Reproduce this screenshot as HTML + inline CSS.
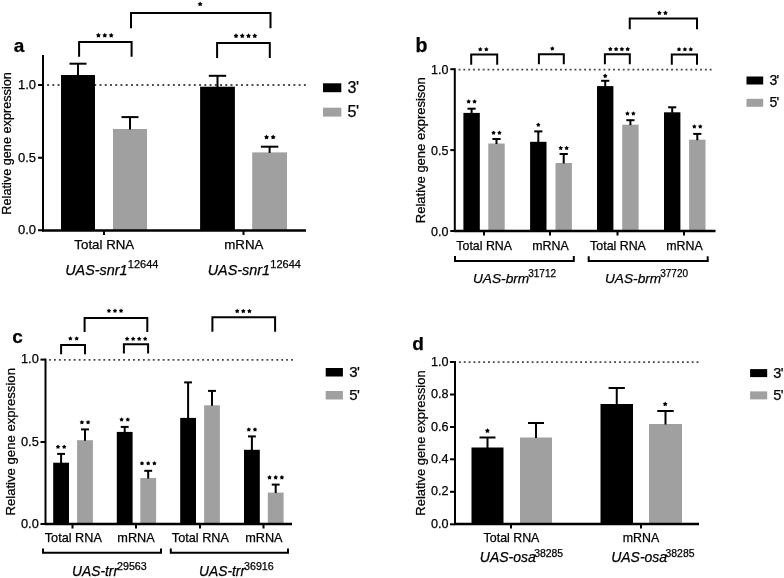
<!DOCTYPE html>
<html><head><meta charset="utf-8"><style>
html,body{margin:0;padding:0;background:#fff;}
svg{display:block;filter:grayscale(1);}
text{font-family:"Liberation Sans", sans-serif;fill:#000;stroke:#000;stroke-width:0.25px;}
</style></head><body>
<svg width="784" height="578" viewBox="0 0 784 578">
<rect width="784" height="578" fill="#fff"/>
<text x="19" y="52.2" font-size="19" text-anchor="middle" font-weight="bold">a</text>
<text x="0" y="0" font-size="12.7" text-anchor="middle" transform="translate(10.8,143.4) rotate(-90)">Relative gene expression</text>
<line x1="43" y1="55" x2="43" y2="231.5" stroke="#000" stroke-width="2"/>
<line x1="38" y1="85" x2="43" y2="85" stroke="#000" stroke-width="2"/>
<text x="36.1" y="89.08" font-size="13" text-anchor="end">1.0</text>
<line x1="38" y1="157.75" x2="43" y2="157.75" stroke="#000" stroke-width="2"/>
<text x="36.1" y="161.83" font-size="13" text-anchor="end">0.5</text>
<line x1="38" y1="230.25" x2="43" y2="230.25" stroke="#000" stroke-width="2"/>
<text x="36.1" y="234.33" font-size="13" text-anchor="end">0.0</text>
<line x1="47.15" y1="85" x2="305.85" y2="85" stroke="#4a4a4a" stroke-width="1.9" stroke-dasharray="1.9,3.34"/>
<rect x="61" y="75" width="34" height="155" fill="#000"/>
<line x1="78" y1="63.7" x2="78" y2="75.5" stroke="#000" stroke-width="2"/>
<line x1="69.5" y1="63.7" x2="86.5" y2="63.7" stroke="#000" stroke-width="2"/>
<rect x="113" y="129" width="34" height="101" fill="#a0a0a0"/>
<line x1="130" y1="117.1" x2="130" y2="129.5" stroke="#000" stroke-width="2"/>
<line x1="121.5" y1="117.1" x2="138.5" y2="117.1" stroke="#000" stroke-width="2"/>
<rect x="200.1" y="86.7" width="34.8" height="143.3" fill="#000"/>
<line x1="217.5" y1="75.8" x2="217.5" y2="87.2" stroke="#000" stroke-width="2"/>
<line x1="208.8" y1="75.8" x2="226.2" y2="75.8" stroke="#000" stroke-width="2"/>
<rect x="252.2" y="152.4" width="34.8" height="77.6" fill="#a0a0a0"/>
<line x1="269.6" y1="146.7" x2="269.6" y2="152.9" stroke="#000" stroke-width="2"/>
<line x1="260.9" y1="146.7" x2="278.3" y2="146.7" stroke="#000" stroke-width="2"/>
<line x1="42" y1="230.5" x2="306" y2="230.5" stroke="#000" stroke-width="2.4"/>
<line x1="104" y1="230.5" x2="104" y2="235" stroke="#000" stroke-width="2"/>
<line x1="243.5" y1="230.5" x2="243.5" y2="235" stroke="#000" stroke-width="2"/>
<text x="104.3" y="249" font-size="13.3" text-anchor="middle">Total RNA</text>
<text x="243.8" y="249" font-size="13.3" text-anchor="middle">mRNA</text>
<text x="111.8" y="274.6" font-size="14.4" text-anchor="middle"><tspan font-style="italic">UAS-snr1</tspan><tspan font-size="11" dx="0.3" dy="-6.2">12644</tspan></text>
<text x="254.3" y="274.6" font-size="14.4" text-anchor="middle"><tspan font-style="italic">UAS-snr1</tspan><tspan font-size="11" dx="0.3" dy="-6.2">12644</tspan></text>
<rect x="323" y="83.3" width="18.3" height="8.9" fill="#000"/>
<rect x="323" y="107.7" width="18.3" height="8.9" fill="#a0a0a0"/>
<text x="347.6" y="92.51" font-size="16" text-anchor="start" letter-spacing="-0.6">3'</text>
<text x="347.6" y="116.91" font-size="16" text-anchor="start" letter-spacing="-0.6">5'</text>
<polyline points="79.1,56.8 79.1,42 131.6,42 131.6,56.8" fill="none" stroke="#000" stroke-width="2"/>
<path d="M98.4,32.8 L99.29,34.18 L100.87,34.6 L99.83,35.87 L99.93,37.5 L98.4,36.91 L96.87,37.5 L96.97,35.87 L95.93,34.6 L97.51,34.18Z M104.8,32.8 L105.69,34.18 L107.27,34.6 L106.23,35.87 L106.33,37.5 L104.8,36.91 L103.27,37.5 L103.37,35.87 L102.33,34.6 L103.91,34.18Z M111.2,32.8 L112.09,34.18 L113.67,34.6 L112.63,35.87 L112.73,37.5 L111.2,36.91 L109.67,37.5 L109.77,35.87 L108.73,34.6 L110.31,34.18Z" fill="#000"/>
<polyline points="217.1,57.9 217.1,42.9 269.8,42.9 269.8,57.9" fill="none" stroke="#000" stroke-width="2"/>
<path d="M236.03,33.3 L236.91,34.68 L238.5,35.1 L237.46,36.37 L237.55,38 L236.03,37.41 L234.5,38 L234.59,36.37 L233.55,35.1 L235.14,34.68Z M242.28,33.3 L243.16,34.68 L244.75,35.1 L243.71,36.37 L243.8,38 L242.28,37.41 L240.75,38 L240.84,36.37 L239.8,35.1 L241.39,34.68Z M248.53,33.3 L249.41,34.68 L251,35.1 L249.96,36.37 L250.05,38 L248.53,37.41 L247,38 L247.09,36.37 L246.05,35.1 L247.64,34.68Z M254.78,33.3 L255.66,34.68 L257.25,35.1 L256.21,36.37 L256.3,38 L254.78,37.41 L253.25,38 L253.34,36.37 L252.3,35.1 L253.89,34.68Z" fill="#000"/>
<polyline points="131,28.3 131,12.9 270.5,12.9 270.5,28.3" fill="none" stroke="#000" stroke-width="2"/>
<path d="M200.1,1.5 L200.99,2.88 L202.57,3.3 L201.53,4.57 L201.63,6.2 L200.1,5.61 L198.57,6.2 L198.67,4.57 L197.63,3.3 L199.21,2.88Z" fill="#000"/>
<path d="M266.55,134.6 L267.44,135.98 L269.02,136.4 L267.98,137.67 L268.08,139.3 L266.55,138.71 L265.02,139.3 L265.12,137.67 L264.08,136.4 L265.66,135.98Z M273.15,134.6 L274.04,135.98 L275.62,136.4 L274.58,137.67 L274.68,139.3 L273.15,138.71 L271.62,139.3 L271.72,137.67 L270.68,136.4 L272.26,135.98Z" fill="#000"/>
<text x="421.5" y="52.2" font-size="19.5" text-anchor="middle" font-weight="bold">b</text>
<text x="0" y="0" font-size="13" text-anchor="middle" transform="translate(424.5,150.2) rotate(-90)">Relative gene expresison</text>
<line x1="454.8" y1="68.2" x2="454.8" y2="232" stroke="#000" stroke-width="2"/>
<line x1="450.3" y1="69.2" x2="454.8" y2="69.2" stroke="#000" stroke-width="2"/>
<text x="448.4" y="73.7" font-size="12.5" text-anchor="end">1.0</text>
<line x1="450.3" y1="150.1" x2="454.8" y2="150.1" stroke="#000" stroke-width="2"/>
<text x="448.4" y="154.6" font-size="12.5" text-anchor="end">0.5</text>
<line x1="450.3" y1="231" x2="454.8" y2="231" stroke="#000" stroke-width="2"/>
<text x="448.4" y="235.5" font-size="12.5" text-anchor="end">0.0</text>
<line x1="458.55" y1="69.6" x2="711.65" y2="69.6" stroke="#4a4a4a" stroke-width="1.9" stroke-dasharray="1.9,2.93"/>
<rect x="463.4" y="112.9" width="16.4" height="118.1" fill="#000"/>
<line x1="471.6" y1="108.7" x2="471.6" y2="113.4" stroke="#000" stroke-width="2"/>
<line x1="467.5" y1="108.7" x2="475.7" y2="108.7" stroke="#000" stroke-width="2"/>
<path d="M468.65,99.2 L469.47,100.47 L470.93,100.86 L469.97,102.03 L470.06,103.54 L468.65,102.99 L467.24,103.54 L467.33,102.03 L466.37,100.86 L467.83,100.47Z M474.55,99.2 L475.37,100.47 L476.83,100.86 L475.87,102.03 L475.96,103.54 L474.55,102.99 L473.14,103.54 L473.23,102.03 L472.27,100.86 L473.73,100.47Z" fill="#000"/>
<rect x="488.3" y="143.5" width="16.4" height="87.5" fill="#a0a0a0"/>
<line x1="496.5" y1="139" x2="496.5" y2="144" stroke="#000" stroke-width="2"/>
<line x1="492.4" y1="139" x2="500.6" y2="139" stroke="#000" stroke-width="2"/>
<path d="M493.55,130.4 L494.37,131.67 L495.83,132.06 L494.87,133.23 L494.96,134.74 L493.55,134.19 L492.14,134.74 L492.23,133.23 L491.27,132.06 L492.73,131.67Z M499.45,130.4 L500.27,131.67 L501.73,132.06 L500.77,133.23 L500.86,134.74 L499.45,134.19 L498.04,134.74 L498.13,133.23 L497.17,132.06 L498.63,131.67Z" fill="#000"/>
<rect x="530.1" y="141.8" width="16.4" height="89.2" fill="#000"/>
<line x1="538.3" y1="131.4" x2="538.3" y2="142.3" stroke="#000" stroke-width="2"/>
<line x1="534.2" y1="131.4" x2="542.4" y2="131.4" stroke="#000" stroke-width="2"/>
<path d="M538.3,122.5 L539.12,123.77 L540.58,124.16 L539.62,125.33 L539.71,126.84 L538.3,126.29 L536.89,126.84 L536.98,125.33 L536.02,124.16 L537.48,123.77Z" fill="#000"/>
<rect x="555.5" y="163" width="16.4" height="68" fill="#a0a0a0"/>
<line x1="563.7" y1="154" x2="563.7" y2="163.5" stroke="#000" stroke-width="2"/>
<line x1="559.6" y1="154" x2="567.8" y2="154" stroke="#000" stroke-width="2"/>
<path d="M560.75,145.7 L561.57,146.97 L563.03,147.36 L562.07,148.53 L562.16,150.04 L560.75,149.49 L559.34,150.04 L559.43,148.53 L558.47,147.36 L559.93,146.97Z M566.65,145.7 L567.47,146.97 L568.93,147.36 L567.97,148.53 L568.06,150.04 L566.65,149.49 L565.24,150.04 L565.33,148.53 L564.37,147.36 L565.83,146.97Z" fill="#000"/>
<rect x="597" y="86.1" width="16.4" height="144.9" fill="#000"/>
<line x1="605.2" y1="80.8" x2="605.2" y2="86.6" stroke="#000" stroke-width="2"/>
<line x1="601.1" y1="80.8" x2="609.3" y2="80.8" stroke="#000" stroke-width="2"/>
<path d="M605.2,73.6 L606.02,74.87 L607.48,75.26 L606.52,76.43 L606.61,77.94 L605.2,77.39 L603.79,77.94 L603.88,76.43 L602.92,75.26 L604.38,74.87Z" fill="#000"/>
<rect x="622.2" y="124.7" width="16.4" height="106.3" fill="#a0a0a0"/>
<line x1="630.4" y1="120.2" x2="630.4" y2="125.2" stroke="#000" stroke-width="2"/>
<line x1="626.3" y1="120.2" x2="634.5" y2="120.2" stroke="#000" stroke-width="2"/>
<path d="M627.45,111.2 L628.27,112.47 L629.73,112.86 L628.77,114.03 L628.86,115.54 L627.45,114.99 L626.04,115.54 L626.13,114.03 L625.17,112.86 L626.63,112.47Z M633.35,111.2 L634.17,112.47 L635.63,112.86 L634.67,114.03 L634.76,115.54 L633.35,114.99 L631.94,115.54 L632.03,114.03 L631.07,112.86 L632.53,112.47Z" fill="#000"/>
<rect x="664" y="112.3" width="16.4" height="118.7" fill="#000"/>
<line x1="672.2" y1="107.3" x2="672.2" y2="112.8" stroke="#000" stroke-width="2"/>
<line x1="668.1" y1="107.3" x2="676.3" y2="107.3" stroke="#000" stroke-width="2"/>
<rect x="689.1" y="139.7" width="16.4" height="91.3" fill="#a0a0a0"/>
<line x1="697.3" y1="133.9" x2="697.3" y2="140.2" stroke="#000" stroke-width="2"/>
<line x1="693.2" y1="133.9" x2="701.4" y2="133.9" stroke="#000" stroke-width="2"/>
<path d="M694.35,124.2 L695.17,125.47 L696.63,125.86 L695.67,127.03 L695.76,128.54 L694.35,127.99 L692.94,128.54 L693.03,127.03 L692.07,125.86 L693.53,125.47Z M700.25,124.2 L701.07,125.47 L702.53,125.86 L701.57,127.03 L701.66,128.54 L700.25,127.99 L698.84,128.54 L698.93,127.03 L697.97,125.86 L699.43,125.47Z" fill="#000"/>
<line x1="454" y1="231" x2="715.5" y2="231" stroke="#000" stroke-width="2.4"/>
<line x1="484" y1="231" x2="484" y2="235.5" stroke="#000" stroke-width="2"/>
<line x1="550" y1="231" x2="550" y2="235.5" stroke="#000" stroke-width="2"/>
<line x1="617.5" y1="231" x2="617.5" y2="235.5" stroke="#000" stroke-width="2"/>
<line x1="684" y1="231" x2="684" y2="235.5" stroke="#000" stroke-width="2"/>
<text x="484.2" y="250.4" font-size="12.4" text-anchor="middle">Total RNA</text>
<text x="550.5" y="250.4" font-size="12.4" text-anchor="middle">mRNA</text>
<text x="618" y="250.4" font-size="12.4" text-anchor="middle">Total RNA</text>
<text x="684.5" y="250.4" font-size="12.4" text-anchor="middle">mRNA</text>
<polyline points="455,256.1 455,261 573.8,261 573.8,256.1" fill="none" stroke="#000" stroke-width="2"/>
<polyline points="588.7,256.3 588.7,261 707.7,261 707.7,256.3" fill="none" stroke="#000" stroke-width="2"/>
<text x="514.5" y="283" font-size="13.7" text-anchor="middle"><tspan font-style="italic">UAS-brm</tspan><tspan font-size="10" dx="-1" dy="-5.9">31712</tspan></text>
<text x="646.5" y="283" font-size="13.7" text-anchor="middle"><tspan font-style="italic">UAS-brm</tspan><tspan font-size="10" dx="-1" dy="-5.9">37720</tspan></text>
<rect x="746.5" y="76.5" width="16.7" height="8" fill="#000"/>
<rect x="746.5" y="98.8" width="16.7" height="8" fill="#a0a0a0"/>
<text x="769.4" y="84.74" font-size="14" text-anchor="start" letter-spacing="-0.6">3'</text>
<text x="769.4" y="107.04" font-size="14" text-anchor="start" letter-spacing="-0.6">5'</text>
<polyline points="471.2,64.8 471.2,54.4 497.2,54.4 497.2,64.8" fill="none" stroke="#000" stroke-width="2"/>
<path d="M480.25,47 L481.07,48.27 L482.53,48.66 L481.57,49.83 L481.66,51.34 L480.25,50.79 L478.84,51.34 L478.93,49.83 L477.97,48.66 L479.43,48.27Z M486.35,47 L487.17,48.27 L488.63,48.66 L487.67,49.83 L487.76,51.34 L486.35,50.79 L484.94,51.34 L485.03,49.83 L484.07,48.66 L485.53,48.27Z" fill="#000"/>
<polyline points="538.9,64.3 538.9,54.2 563.8,54.2 563.8,64.3" fill="none" stroke="#000" stroke-width="2"/>
<path d="M552.3,46.2 L553.12,47.47 L554.58,47.86 L553.62,49.03 L553.71,50.54 L552.3,49.99 L550.89,50.54 L550.98,49.03 L550.02,47.86 L551.48,47.47Z" fill="#000"/>
<polyline points="604.9,64.3 604.9,54.2 629.8,54.2 629.8,64.3" fill="none" stroke="#000" stroke-width="2"/>
<path d="M610.3,46.8 L611.12,48.07 L612.58,48.46 L611.62,49.63 L611.71,51.14 L610.3,50.59 L608.89,51.14 L608.98,49.63 L608.02,48.46 L609.48,48.07Z M616.1,46.8 L616.92,48.07 L618.38,48.46 L617.42,49.63 L617.51,51.14 L616.1,50.59 L614.69,51.14 L614.78,49.63 L613.82,48.46 L615.28,48.07Z M621.9,46.8 L622.72,48.07 L624.18,48.46 L623.22,49.63 L623.31,51.14 L621.9,50.59 L620.49,51.14 L620.58,49.63 L619.62,48.46 L621.08,48.07Z M627.7,46.8 L628.52,48.07 L629.98,48.46 L629.02,49.63 L629.11,51.14 L627.7,50.59 L626.29,51.14 L626.38,49.63 L625.42,48.46 L626.88,48.07Z" fill="#000"/>
<polyline points="671.8,64.8 671.8,54.4 697,54.4 697,64.8" fill="none" stroke="#000" stroke-width="2"/>
<path d="M679,47 L679.82,48.27 L681.28,48.66 L680.32,49.83 L680.41,51.34 L679,50.79 L677.59,51.34 L677.68,49.83 L676.72,48.66 L678.18,48.27Z M684.9,47 L685.72,48.27 L687.18,48.66 L686.22,49.83 L686.31,51.34 L684.9,50.79 L683.49,51.34 L683.58,49.83 L682.62,48.66 L684.08,48.27Z M690.8,47 L691.62,48.27 L693.08,48.66 L692.12,49.83 L692.21,51.34 L690.8,50.79 L689.39,51.34 L689.48,49.83 L688.52,48.66 L689.98,48.27Z" fill="#000"/>
<polyline points="629.75,29.2 629.75,18.55 697,18.55 697,29.2" fill="none" stroke="#000" stroke-width="2"/>
<path d="M659.35,10.6 L660.17,11.87 L661.63,12.26 L660.67,13.43 L660.76,14.94 L659.35,14.39 L657.94,14.94 L658.03,13.43 L657.07,12.26 L658.53,11.87Z M665.45,10.6 L666.27,11.87 L667.73,12.26 L666.77,13.43 L666.86,14.94 L665.45,14.39 L664.04,14.94 L664.13,13.43 L663.17,12.26 L664.63,11.87Z" fill="#000"/>
<text x="17.5" y="342.5" font-size="19" text-anchor="middle" font-weight="bold">c</text>
<text x="0" y="0" font-size="13.15" text-anchor="middle" transform="translate(14.7,441.8) rotate(-90)">Relative gene expression</text>
<line x1="45.5" y1="358.6" x2="45.5" y2="525" stroke="#000" stroke-width="2"/>
<line x1="40.5" y1="359.6" x2="45.5" y2="359.6" stroke="#000" stroke-width="2"/>
<text x="38.8" y="363.41" font-size="12.8" text-anchor="end">1.0</text>
<line x1="40.5" y1="442" x2="45.5" y2="442" stroke="#000" stroke-width="2"/>
<text x="38.8" y="445.81" font-size="12.8" text-anchor="end">0.5</text>
<line x1="40.5" y1="524" x2="45.5" y2="524" stroke="#000" stroke-width="2"/>
<text x="38.8" y="527.81" font-size="12.8" text-anchor="end">0.0</text>
<line x1="49.03" y1="359.9" x2="292.99" y2="359.9" stroke="#4a4a4a" stroke-width="1.9" stroke-dasharray="1.9,3.04"/>
<rect x="53.2" y="462.7" width="15.8" height="61.3" fill="#000"/>
<line x1="61.1" y1="453.9" x2="61.1" y2="463.2" stroke="#000" stroke-width="2"/>
<line x1="57.15" y1="453.9" x2="65.05" y2="453.9" stroke="#000" stroke-width="2"/>
<path d="M58,444.5 L58.82,445.77 L60.28,446.16 L59.32,447.33 L59.41,448.84 L58,448.29 L56.59,448.84 L56.68,447.33 L55.72,446.16 L57.18,445.77Z M64.2,444.5 L65.02,445.77 L66.48,446.16 L65.52,447.33 L65.61,448.84 L64.2,448.29 L62.79,448.84 L62.88,447.33 L61.92,446.16 L63.38,445.77Z" fill="#000"/>
<rect x="77.1" y="440.2" width="15.8" height="83.8" fill="#a0a0a0"/>
<line x1="85" y1="429.4" x2="85" y2="440.7" stroke="#000" stroke-width="2"/>
<line x1="81.05" y1="429.4" x2="88.95" y2="429.4" stroke="#000" stroke-width="2"/>
<path d="M81.9,419.9 L82.72,421.17 L84.18,421.56 L83.22,422.73 L83.31,424.24 L81.9,423.69 L80.49,424.24 L80.58,422.73 L79.62,421.56 L81.08,421.17Z M88.1,419.9 L88.92,421.17 L90.38,421.56 L89.42,422.73 L89.51,424.24 L88.1,423.69 L86.69,424.24 L86.78,422.73 L85.82,421.56 L87.28,421.17Z" fill="#000"/>
<rect x="116.8" y="431.9" width="15.8" height="92.1" fill="#000"/>
<line x1="124.7" y1="426.9" x2="124.7" y2="432.4" stroke="#000" stroke-width="2"/>
<line x1="120.75" y1="426.9" x2="128.65" y2="426.9" stroke="#000" stroke-width="2"/>
<path d="M121.6,417.2 L122.42,418.47 L123.88,418.86 L122.92,420.03 L123.01,421.54 L121.6,420.99 L120.19,421.54 L120.28,420.03 L119.32,418.86 L120.78,418.47Z M127.8,417.2 L128.62,418.47 L130.08,418.86 L129.12,420.03 L129.21,421.54 L127.8,420.99 L126.39,421.54 L126.48,420.03 L125.52,418.86 L126.98,418.47Z" fill="#000"/>
<rect x="140.3" y="478" width="15.8" height="46" fill="#a0a0a0"/>
<line x1="148.2" y1="470.8" x2="148.2" y2="478.5" stroke="#000" stroke-width="2"/>
<line x1="144.25" y1="470.8" x2="152.15" y2="470.8" stroke="#000" stroke-width="2"/>
<path d="M142,461 L142.82,462.27 L144.28,462.66 L143.32,463.83 L143.41,465.34 L142,464.79 L140.59,465.34 L140.68,463.83 L139.72,462.66 L141.18,462.27Z M148.2,461 L149.02,462.27 L150.48,462.66 L149.52,463.83 L149.61,465.34 L148.2,464.79 L146.79,465.34 L146.88,463.83 L145.92,462.66 L147.38,462.27Z M154.4,461 L155.22,462.27 L156.68,462.66 L155.72,463.83 L155.81,465.34 L154.4,464.79 L152.99,465.34 L153.08,463.83 L152.12,462.66 L153.58,462.27Z" fill="#000"/>
<rect x="180.2" y="417.9" width="15.8" height="106.1" fill="#000"/>
<line x1="188.1" y1="382.4" x2="188.1" y2="418.4" stroke="#000" stroke-width="2"/>
<line x1="184.15" y1="382.4" x2="192.05" y2="382.4" stroke="#000" stroke-width="2"/>
<rect x="204.1" y="405.3" width="15.8" height="118.7" fill="#a0a0a0"/>
<line x1="212" y1="390.9" x2="212" y2="405.8" stroke="#000" stroke-width="2"/>
<line x1="208.05" y1="390.9" x2="215.95" y2="390.9" stroke="#000" stroke-width="2"/>
<rect x="244" y="449.8" width="15.8" height="74.2" fill="#000"/>
<line x1="251.9" y1="436.4" x2="251.9" y2="450.3" stroke="#000" stroke-width="2"/>
<line x1="247.95" y1="436.4" x2="255.85" y2="436.4" stroke="#000" stroke-width="2"/>
<path d="M248.8,427.2 L249.62,428.47 L251.08,428.86 L250.12,430.03 L250.21,431.54 L248.8,430.99 L247.39,431.54 L247.48,430.03 L246.52,428.86 L247.98,428.47Z M255,427.2 L255.82,428.47 L257.28,428.86 L256.32,430.03 L256.41,431.54 L255,430.99 L253.59,431.54 L253.68,430.03 L252.72,428.86 L254.18,428.47Z" fill="#000"/>
<rect x="267.8" y="492.6" width="15.8" height="31.4" fill="#a0a0a0"/>
<line x1="275.7" y1="484.6" x2="275.7" y2="493.1" stroke="#000" stroke-width="2"/>
<line x1="271.75" y1="484.6" x2="279.65" y2="484.6" stroke="#000" stroke-width="2"/>
<path d="M269.5,475.1 L270.32,476.37 L271.78,476.76 L270.82,477.93 L270.91,479.44 L269.5,478.89 L268.09,479.44 L268.18,477.93 L267.22,476.76 L268.68,476.37Z M275.7,475.1 L276.52,476.37 L277.98,476.76 L277.02,477.93 L277.11,479.44 L275.7,478.89 L274.29,479.44 L274.38,477.93 L273.42,476.76 L274.88,476.37Z M281.9,475.1 L282.72,476.37 L284.18,476.76 L283.22,477.93 L283.31,479.44 L281.9,478.89 L280.49,479.44 L280.58,477.93 L279.62,476.76 L281.08,476.37Z" fill="#000"/>
<line x1="45" y1="524" x2="292" y2="524" stroke="#000" stroke-width="2.4"/>
<line x1="72.5" y1="524" x2="72.5" y2="528.5" stroke="#000" stroke-width="2"/>
<line x1="136" y1="524" x2="136" y2="528.5" stroke="#000" stroke-width="2"/>
<line x1="200" y1="524" x2="200" y2="528.5" stroke="#000" stroke-width="2"/>
<line x1="263.5" y1="524" x2="263.5" y2="528.5" stroke="#000" stroke-width="2"/>
<text x="73.3" y="541.8" font-size="12.7" text-anchor="middle">Total RNA</text>
<text x="136" y="541.8" font-size="12.7" text-anchor="middle">mRNA</text>
<text x="200.4" y="541.8" font-size="12.7" text-anchor="middle">Total RNA</text>
<text x="263.9" y="541.8" font-size="12.7" text-anchor="middle">mRNA</text>
<polyline points="43,548.5 43,552.8 161,552.8 161,548.5" fill="none" stroke="#000" stroke-width="2"/>
<polyline points="170.8,548.5 170.8,552.8 288,552.8 288,548.5" fill="none" stroke="#000" stroke-width="2"/>
<text x="109.4" y="576.2" font-size="13.8" text-anchor="middle"><tspan font-style="italic">UAS-trr</tspan><tspan font-size="10.7" dx="-1" dy="-5.9">29563</tspan></text>
<text x="236.4" y="576.2" font-size="13.8" text-anchor="middle"><tspan font-style="italic">UAS-trr</tspan><tspan font-size="10.7" dx="-1" dy="-5.9">36916</tspan></text>
<rect x="325.7" y="368" width="17.2" height="8.5" fill="#000"/>
<rect x="325.7" y="391" width="17.2" height="8.5" fill="#a0a0a0"/>
<text x="349.2" y="377.05" font-size="15" text-anchor="start" letter-spacing="-0.6">3'</text>
<text x="349.2" y="400.05" font-size="15" text-anchor="start" letter-spacing="-0.6">5'</text>
<polyline points="61.1,354.2 61.1,344.9 85,344.9 85,354.2" fill="none" stroke="#000" stroke-width="2"/>
<path d="M70.35,336.2 L71.17,337.47 L72.63,337.86 L71.67,339.03 L71.76,340.54 L70.35,339.99 L68.94,340.54 L69.03,339.03 L68.07,337.86 L69.53,337.47Z M76.65,336.2 L77.47,337.47 L78.93,337.86 L77.97,339.03 L78.06,340.54 L76.65,339.99 L75.24,340.54 L75.33,339.03 L74.37,337.86 L75.83,337.47Z" fill="#000"/>
<polyline points="123.9,353.5 123.9,344.2 148.1,344.2 148.1,353.5" fill="none" stroke="#000" stroke-width="2"/>
<path d="M127.11,336.5 L127.92,337.77 L129.39,338.16 L128.43,339.33 L128.52,340.84 L127.11,340.29 L125.69,340.84 L125.78,339.33 L124.82,338.16 L126.29,337.77Z M133.13,336.5 L133.95,337.77 L135.42,338.16 L134.46,339.33 L134.55,340.84 L133.13,340.29 L131.72,340.84 L131.81,339.33 L130.85,338.16 L132.32,337.77Z M139.16,336.5 L139.98,337.77 L141.45,338.16 L140.49,339.33 L140.58,340.84 L139.16,340.29 L137.75,340.84 L137.84,339.33 L136.88,338.16 L138.35,337.77Z M145.19,336.5 L146.01,337.77 L147.48,338.16 L146.52,339.33 L146.61,340.84 L145.19,340.29 L143.78,340.84 L143.87,339.33 L142.91,338.16 L144.38,337.77Z" fill="#000"/>
<polyline points="84.6,331.9 84.6,317.9 147.3,317.9 147.3,331.9" fill="none" stroke="#000" stroke-width="2"/>
<path d="M108.95,308.4 L109.77,309.67 L111.23,310.06 L110.27,311.23 L110.36,312.74 L108.95,312.19 L107.54,312.74 L107.63,311.23 L106.67,310.06 L108.13,309.67Z M115,308.4 L115.82,309.67 L117.28,310.06 L116.32,311.23 L116.41,312.74 L115,312.19 L113.59,312.74 L113.68,311.23 L112.72,310.06 L114.18,309.67Z M121.05,308.4 L121.87,309.67 L123.33,310.06 L122.37,311.23 L122.46,312.74 L121.05,312.19 L119.64,312.74 L119.73,311.23 L118.77,310.06 L120.23,309.67Z" fill="#000"/>
<polyline points="212.4,331.7 212.4,317.2 275.1,317.2 275.1,331.7" fill="none" stroke="#000" stroke-width="2"/>
<path d="M237.2,308.8 L238.02,310.07 L239.48,310.46 L238.52,311.63 L238.61,313.14 L237.2,312.59 L235.79,313.14 L235.88,311.63 L234.92,310.46 L236.38,310.07Z M243.3,308.8 L244.12,310.07 L245.58,310.46 L244.62,311.63 L244.71,313.14 L243.3,312.59 L241.89,313.14 L241.98,311.63 L241.02,310.46 L242.48,310.07Z M249.4,308.8 L250.22,310.07 L251.68,310.46 L250.72,311.63 L250.81,313.14 L249.4,312.59 L247.99,313.14 L248.08,311.63 L247.12,310.46 L248.58,310.07Z" fill="#000"/>
<text x="418" y="350" font-size="19" text-anchor="middle" font-weight="bold">d</text>
<text x="0" y="0" font-size="12.95" text-anchor="middle" transform="translate(425,443) rotate(-90)">Relative gene expression</text>
<line x1="455" y1="361" x2="455" y2="525" stroke="#000" stroke-width="2"/>
<line x1="450" y1="362" x2="455" y2="362" stroke="#000" stroke-width="2"/>
<text x="448.4" y="365.64" font-size="12.6" text-anchor="end">1.0</text>
<line x1="450" y1="394.5" x2="455" y2="394.5" stroke="#000" stroke-width="2"/>
<text x="448.4" y="398.14" font-size="12.6" text-anchor="end">0.8</text>
<line x1="450" y1="427" x2="455" y2="427" stroke="#000" stroke-width="2"/>
<text x="448.4" y="430.64" font-size="12.6" text-anchor="end">0.6</text>
<line x1="450" y1="459.3" x2="455" y2="459.3" stroke="#000" stroke-width="2"/>
<text x="448.4" y="462.94" font-size="12.6" text-anchor="end">0.4</text>
<line x1="450" y1="491.8" x2="455" y2="491.8" stroke="#000" stroke-width="2"/>
<text x="448.4" y="495.44" font-size="12.6" text-anchor="end">0.2</text>
<line x1="450" y1="524.3" x2="455" y2="524.3" stroke="#000" stroke-width="2"/>
<text x="448.4" y="527.94" font-size="12.6" text-anchor="end">0.0</text>
<line x1="458.9" y1="362.1" x2="698.45" y2="362.1" stroke="#4a4a4a" stroke-width="1.9" stroke-dasharray="1.9,2.95"/>
<rect x="471.5" y="447.5" width="32" height="76.5" fill="#000"/>
<line x1="487.5" y1="437.5" x2="487.5" y2="448" stroke="#000" stroke-width="2"/>
<line x1="479.5" y1="437.5" x2="495.5" y2="437.5" stroke="#000" stroke-width="2"/>
<rect x="520" y="437.5" width="32" height="86.5" fill="#a0a0a0"/>
<line x1="536" y1="423" x2="536" y2="438" stroke="#000" stroke-width="2"/>
<line x1="528" y1="423" x2="544" y2="423" stroke="#000" stroke-width="2"/>
<rect x="600.5" y="404" width="32.5" height="120" fill="#000"/>
<line x1="616.75" y1="388" x2="616.75" y2="404.5" stroke="#000" stroke-width="2"/>
<line x1="608.62" y1="388" x2="624.88" y2="388" stroke="#000" stroke-width="2"/>
<rect x="649" y="424" width="33" height="100" fill="#a0a0a0"/>
<line x1="665.5" y1="411" x2="665.5" y2="424.5" stroke="#000" stroke-width="2"/>
<line x1="657.25" y1="411" x2="673.75" y2="411" stroke="#000" stroke-width="2"/>
<path d="M487.4,428.2 L488.29,429.58 L489.87,430 L488.83,431.27 L488.93,432.9 L487.4,432.31 L485.87,432.9 L485.97,431.27 L484.93,430 L486.51,429.58Z" fill="#000"/>
<path d="M665.2,401.5 L666.09,402.88 L667.67,403.3 L666.63,404.57 L666.73,406.2 L665.2,405.61 L663.67,406.2 L663.77,404.57 L662.73,403.3 L664.31,402.88Z" fill="#000"/>
<line x1="454" y1="524" x2="699" y2="524" stroke="#000" stroke-width="2.4"/>
<line x1="511" y1="524" x2="511" y2="528.5" stroke="#000" stroke-width="2"/>
<line x1="641" y1="524" x2="641" y2="528.5" stroke="#000" stroke-width="2"/>
<text x="511.5" y="541.5" font-size="12.4" text-anchor="middle">Total RNA</text>
<text x="641" y="541.5" font-size="12.4" text-anchor="middle">mRNA</text>
<text x="521.5" y="562.4" font-size="14" text-anchor="middle"><tspan font-style="italic">UAS-osa</tspan><tspan font-size="10.4" dx="-1.6" dy="-5.9">38285</tspan></text>
<text x="652.8" y="562.4" font-size="14" text-anchor="middle"><tspan font-style="italic">UAS-osa</tspan><tspan font-size="10.4" dx="-1.6" dy="-5.9">38285</tspan></text>
<rect x="750.1" y="369.1" width="17.1" height="8" fill="#000"/>
<rect x="750.1" y="391.4" width="17.1" height="8" fill="#a0a0a0"/>
<text x="773.3" y="377.72" font-size="14.5" text-anchor="start" letter-spacing="-0.6">3'</text>
<text x="773.3" y="400.02" font-size="14.5" text-anchor="start" letter-spacing="-0.6">5'</text>
</svg>
</body></html>
